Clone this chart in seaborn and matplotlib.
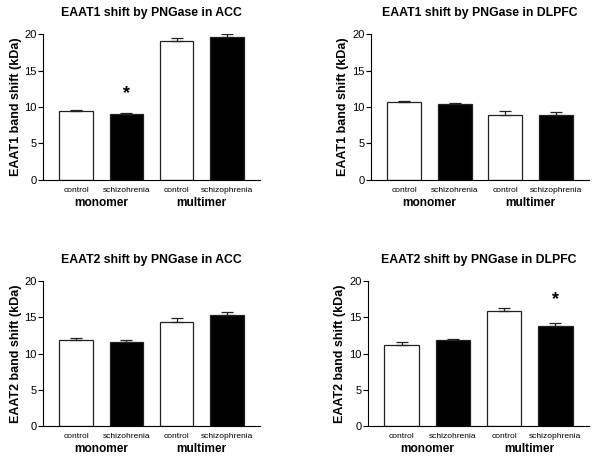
import numpy as np
import pandas as pd
import seaborn as sns
import matplotlib.pyplot as plt
from matplotlib.transforms import blended_transform_factory

sns.set_style("ticks")
plt.rcParams['font.family'] = ['Liberation Sans', 'DejaVu Sans']
for k in ['text.color', 'axes.labelcolor', 'xtick.color', 'ytick.color', 'axes.edgecolor']:
    plt.rcParams[k] = 'black'

# data
keys = ['mono_ctrl', 'mono_scz', 'multi_ctrl', 'multi_scz']
tick_labels = ['control', 'schizohrenia', 'control', 'schizophrenia']
groups = ['monomer', 'multimer']
bar_colors = ['white', 'black', 'white', 'black']

titles = ['EAAT1 shift by PNGase in ACC', 'EAAT1 shift by PNGase in DLPFC',
          'EAAT2 shift by PNGase in ACC', 'EAAT2 shift by PNGase in DLPFC']
ylabels = ['EAAT1 band shift (kDa)', 'EAAT1 band shift (kDa)',
           'EAAT2 band shift (kDa)', 'EAAT2 band shift (kDa)']

acc1_mean = [9.5, 9.05, 19.1, 19.6]
acc1_sem = [0.1, 0.12, 0.3, 0.35]
dlpfc1_mean = [10.65, 10.45, 8.9, 8.9]
dlpfc1_sem = [0.2, 0.15, 0.5, 0.45]
acc2_mean = [11.85, 11.65, 14.4, 15.3]
acc2_sem = [0.25, 0.2, 0.45, 0.5]
dlpfc2_mean = [11.15, 11.85, 15.9, 13.8]
dlpfc2_sem = [0.5, 0.15, 0.4, 0.45]

means = [acc1_mean, dlpfc1_mean, acc2_mean, dlpfc2_mean]
sems = [acc1_sem, dlpfc1_sem, acc2_sem, dlpfc2_sem]
# significance star: (bar index, height) or None
stars = [(1, 11.9), None, None, (3, 17.4)]

fig = plt.figure(figsize=(6, 4.61), dpi=100)
positions = [
    [0.072, 0.610, 0.361, 0.316],
    [0.618, 0.610, 0.364, 0.316],
    [0.072, 0.076, 0.361, 0.314],
    [0.613, 0.076, 0.369, 0.314],
]

for i in range(4):
    ax = fig.add_axes(positions[i])
    df = pd.DataFrame({'key': keys, 'value': means[i]})
    sns.barplot(data=df, x='key', y='value', hue='key', order=keys,
                palette=bar_colors, legend=False, edgecolor='#222222',
                linewidth=0.9, width=0.67, ax=ax)
    ax.errorbar(range(4), means[i], yerr=[np.zeros(4), sems[i]], fmt='none',
                ecolor='#222222', elinewidth=0.9, capsize=4, capthick=0.9)
    ax.set_ylim(0, 20)
    ax.set_xlim(-0.66, 3.66)
    ax.set_yticks([0, 5, 10, 15, 20])
    ax.tick_params(axis='y', labelsize=8, length=3.5, width=0.8, pad=1)
    ax.tick_params(axis='x', length=0, labelsize=6, pad=5)
    ax.set_xticks(range(4))
    ax.set_xticklabels(tick_labels)
    ax.set_xlabel('')
    ax.set_ylabel(ylabels[i], fontsize=9, fontweight='bold', labelpad=2)
    ax.set_title(titles[i], fontsize=8.8, fontweight='bold', pad=13)
    sns.despine(ax=ax)
    for s in ['left', 'bottom']:
        ax.spines[s].set_linewidth(0.8)
    trans = blended_transform_factory(ax.transData, ax.transAxes)
    for g, name in enumerate(groups):
        ax.text(2 * g + 0.5, -0.16, name, transform=trans, ha='center',
                va='center', fontsize=8.6, fontweight='bold')
    if stars[i] is not None:
        ax.text(stars[i][0], stars[i][1], '*', ha='center', va='center',
                fontsize=13, fontweight='bold')

fig.savefig('out.png', dpi=100)
